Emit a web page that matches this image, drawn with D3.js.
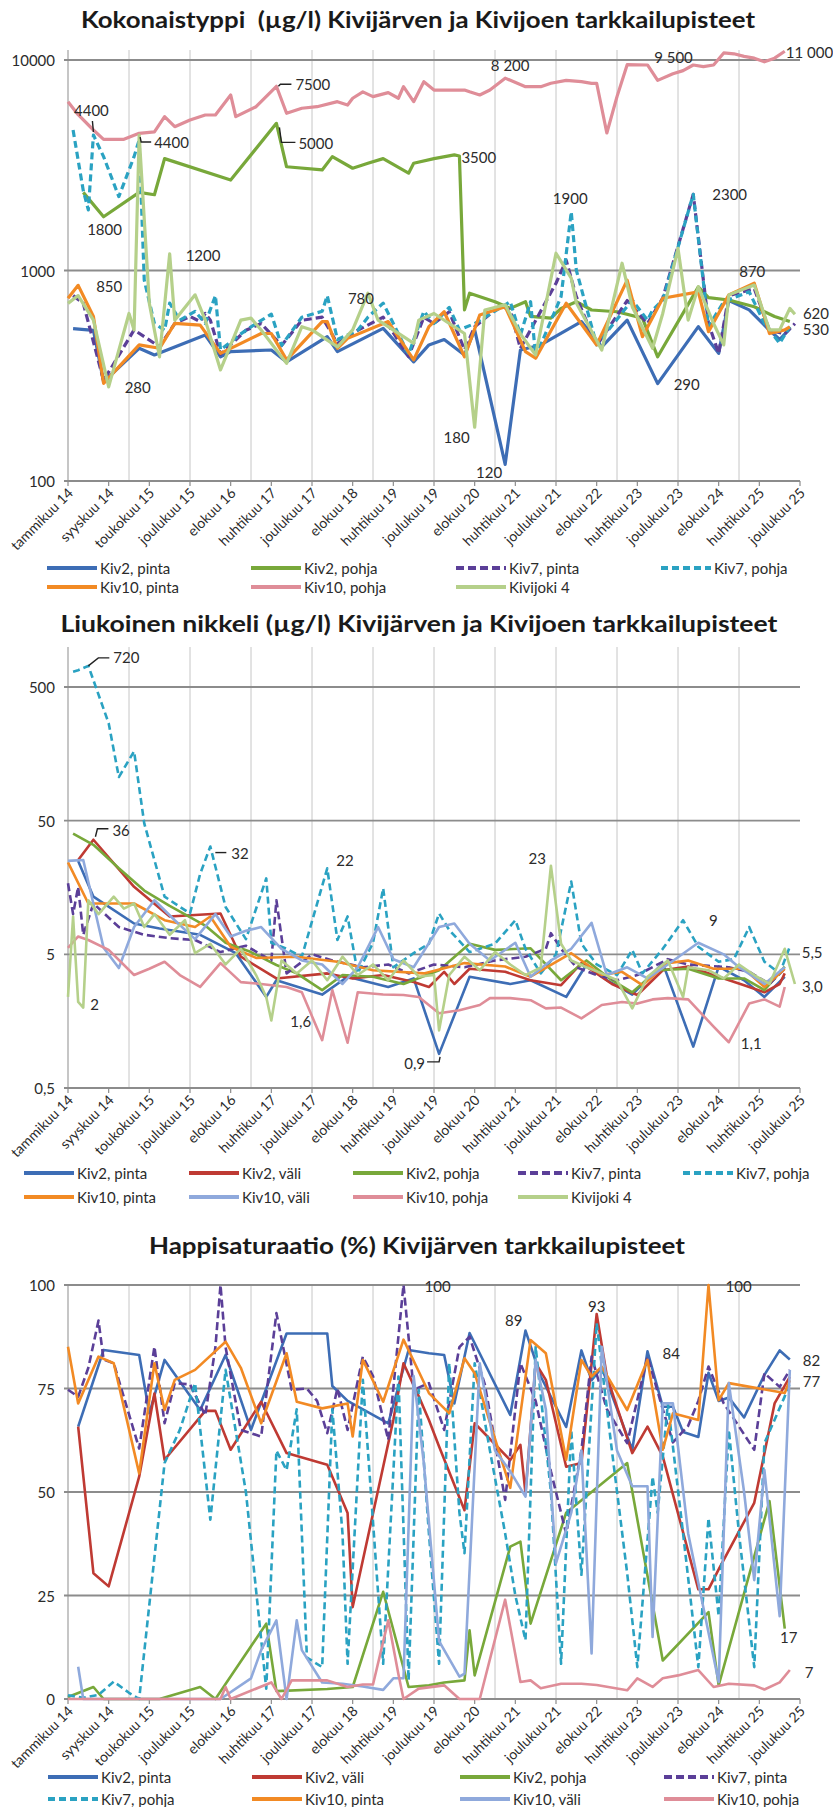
<!DOCTYPE html>
<html><head><meta charset="utf-8">
<script src="https://cdn.jsdelivr.net/npm/d3@7"></script>
<style>body{margin:0;background:#fff}svg{display:block}text{font-family:Lato,"Open Sans",sans-serif;fill:#2b2b2b}</style>
</head><body><svg id="c" width="833" height="1807"></svg>
<script>
// ---------------- DATA ----------------
const xTickLabels = ["tammikuu 14","syyskuu 14","toukokuu 15","joulukuu 15","elokuu 16","huhtikuu 17","joulukuu 17","elokuu 18","huhtikuu 19","joulukuu 19","elokuu 20","huhtikuu 21","joulukuu 21","elokuu 22","huhtikuu 23","joulukuu 23","elokuu 24","huhtikuu 25","joulukuu 25"];
const nCategories = 145;       // sampling dates on the category axis
const labelEvery = 8, gridEvery = 12;

// Chart 1: Kokonaistyppi (µg/l)  [category index, value]
const tnKiv2Pinta = [[1,530],[5,520],[7,296],[14,427],[17,397],[27,494],[30,389],[32,412],[40,419],[43,368],[51,485],[53,412],[62,531],[68,368],[71,443],[74,470],[78,397],[80,522],[86,120],[89,419],[93,443],[101,572],[105,434],[110,581],[116,290],[124,541],[128,404],[130,720],[134,650],[138,520],[140,470],[142,530]];
const tnKiv2Pohja = [[3,2350],[7,1800],[14,2350],[17,2290],[19,3400],[32,2690],[41,5000],[43,3110],[50,3005],[52,3475],[56,3060],[59,3230],[62,3400],[67,2900],[68,3230],[72,3400],[76,3540],[77,3500],[78,650],[79,780],[84,711],[87,661],[90,711],[91,605],[95,594],[97,661],[100,711],[103,649],[108,637],[113,594],[116,389],[124,836],[126,743],[130,724],[135,673],[139,605],[142,572]];
const tnKiv7Pinta = [[1,760],[3,700],[7,300],[12,476],[13,522],[15,485],[18,434],[21,560],[24,605],[26,572],[27,625],[28,581],[30,400],[35,520],[38,560],[42,440],[46,580],[50,600],[53,450],[57,520],[62,600],[67,390],[70,600],[72,560],[75,637],[78,420],[80,540],[85,680],[87,649],[89,427],[96,870],[98,1120],[100,751],[104,440],[110,720],[114,560],[117,740],[123,2300],[126,560],[128,404],[130,760],[135,820],[138,520],[141,500],[143,560]];
const tnKiv7Pohja = [[1,4645],[3,2400],[4,1940],[5,4400],[7,3475],[10,2244],[13,3475],[14,4170],[15,900],[17,560],[19,520],[20,700],[22,580],[25,640],[27,560],[29,760],[30,420],[34,500],[37,560],[40,620],[42,440],[46,600],[50,640],[51,760],[53,470],[57,520],[59,600],[62,700],[64,560],[67,400],[70,640],[72,560],[75,668],[77,522],[80,560],[87,711],[89,494],[91,711],[92,389],[97,751],[99,1900],[100,1003],[104,443],[111,724],[114,581],[115,649],[117,724],[123,2300],[126,541],[129,711],[134,792],[137,561],[140,451],[142,541]];
const tnKiv10Pinta = [[0,738],[2,850],[5,605],[7,291],[14,443],[18,427],[21,561],[26,550],[30,404],[38,502],[40,502],[43,376],[50,572],[51,572],[53,427],[55,476],[63,572],[68,376],[71,541],[74,637],[78,389],[81,615],[86,673],[90,412],[92,383],[98,699],[104,443],[110,900],[113,485],[117,738],[124,792],[126,512],[130,766],[135,870],[138,502],[141,522],[142,540]];
const tnKiv10Pohja = [[0,6340],[2,5500],[5,4650],[7,4200],[11,4200],[14,4485],[17,4560],[19,5380],[21,4820],[24,5190],[27,5480],[29,5480],[32,6820],[33,5380],[37,6000],[41,7500],[43,5585],[46,5900],[49,6000],[53,6340],[55,6110],[56,6580],[58,7060],[60,6700],[63,7000],[65,6580],[66,7470],[68,6340],[70,7890],[72,7200],[75,7200],[78,7200],[79,7060],[81,6820],[83,7200],[86,8200],[90,7470],[93,7470],[95,7750],[98,8000],[101,7890],[103,7750],[104,7750],[106,4500],[108,6700],[110,9500],[114,9470],[116,8000],[119,8600],[121,8900],[123,9470],[125,9300],[127,9470],[129,10800],[131,10700],[133,10400],[135,10200],[137,9800],[139,10200],[141,11000]];
const tnKivijoki4 = [[0,698],[2,760],[5,581],[8,280],[12,625],[13,522],[14,4400],[16,698],[18,389],[20,1200],[21,581],[25,766],[27,581],[30,337],[34,581],[36,594],[38,522],[43,362],[46,541],[48,522],[53,434],[56,522],[59,780],[61,581],[66,485],[68,451],[69,581],[72,625],[75,560],[78,502],[80,180],[82,649],[86,687],[89,500],[92,397],[96,1208],[99,920],[100,700],[105,419],[109,1083],[111,673],[115,427],[117,625],[120,1274],[122,581],[124,836],[127,560],[129,443],[130,766],[135,853],[138,522],[140,522],[142,661],[143,620]];
const tnTicks = [100,1000,10000];
const tnNotes = [[5,4400,"4400"],[14,4400,"4400"],[41,7500,"7500"],[41,5000,"5000"],[77,3500,"3500"],[86,8200,"8 200"],[110,9500,"9 500"],[141,11000,"11 000"],[7,1800,"1800"],[99,1900,"1900"],[123,2300,"2300"],[20,1200,"1200"],[2,850,"850"],[59,780,"780"],[135,870,"870"],[143,620,"620"],[142,530,"530"],[8,280,"280"],[80,180,"180"],[86,120,"120"],[116,290,"290"]];

// Chart 2: Liukoinen nikkeli (µg/l)
const niKiv2Pinta = [[2,25],[5,13.5],[13,8.5],[18,7.8],[26,7],[33,5.1],[39,2.4],[41,3.2],[50,2.5],[55,3.4],[63,2.85],[68,3.3],[73,0.9],[79,3.4],[87,3.0],[91,3.2],[98,2.4],[102,4.2],[106,3.2],[111,2.5],[117,4.3],[123,1.02],[128,4.05],[133,3.2],[137,2.4],[141,3.4]];
const niKiv2Vali = [[2,25.4],[5,36],[13,16],[20,9.6],[30,10.1],[34,4.8],[41,3.3],[51,3.6],[56,3.3],[62,3.5],[68,3.1],[71,2.85],[74,3.7],[76,3.0],[79,3.9],[86,3.7],[91,3.2],[97,2.94],[101,4.3],[107,3.0],[112,2.48],[117,3.8],[122,4.05],[128,3.4],[133,2.94],[137,2.6],[140,3.0],[141,3.6]];
const niKiv2Pohja = [[1,40],[5,33],[10,22],[15,15],[20,11.5],[27,8.2],[31,6.1],[36,5.2],[41,4.16],[45,3.6],[50,2.7],[54,3.5],[60,3.4],[66,3.0],[73,3.8],[79,6.0],[84,5.4],[91,5.55],[97,3.2],[102,4.5],[107,3.2],[111,2.6],[116,3.8],[122,3.9],[128,3.3],[133,3.3],[137,2.7],[141,4.05]];
const niKiv7Pinta = [[0,17],[1,10],[2,16],[3,7],[5,12],[10,8],[15,7],[20,6.6],[25,6.4],[30,5.2],[35,5.8],[40,4.5],[41,12.7],[43,3.6],[48,5],[52,4.5],[58,4],[63,4.2],[67,3.6],[72,4.2],[78,4],[84,4.5],[90,4.8],[94,5.5],[95,7.2],[97,5.5],[100,4],[104,3.5],[108,3.2],[112,3.5],[118,4.6],[122,4.2],[126,4.1],[130,4],[134,3.7],[138,3.0],[141,3.9]];
const niKiv7Pohja = [[1,650],[2,668],[4,720],[8,268],[10,106],[13,165],[15,47.7],[19,13.5],[24,10.1],[26,20],[28,32],[31,11.3],[35,6.5],[39,18.5],[40,6.1],[43,5.5],[46,4.8],[51,22],[53,6.4],[55,9.6],[57,3.6],[60,6.1],[62,15.6],[64,4.0],[68,5.1],[71,6],[73,10.1],[75,7.6],[79,5.2],[84,6],[88,9.0],[90,5.5],[93,3.6],[96,5],[99,17.5],[101,6],[104,4.2],[108,3.5],[111,5.4],[113,3.6],[117,5.5],[121,9],[124,5.7],[128,4.4],[131,4.6],[134,8.0],[137,4.4],[140,3.6],[142,5.7]];
const niKiv10Pinta = [[0,24.4],[4,12],[13,12],[19,9],[25,8.0],[28,9.6],[32,5.7],[37,4.7],[45,4.8],[53,4.4],[60,3.8],[70,3.6],[78,4.3],[86,4.05],[91,3.4],[99,5.1],[105,3.5],[109,3.7],[113,2.94],[118,4.3],[122,4.5],[127,3.9],[133,3.9],[137,2.85],[141,3.9]];
const niKiv10Vali = [[0,25],[3,25.4],[7,5.6],[10,3.95],[13,8],[17,12.7],[21,9],[25,6.5],[29,10],[32,6.8],[35,7.5],[38,8.0],[42,5.5],[46,4.5],[50,4.2],[54,3.0],[57,4],[61,8],[64,4.6],[68,4],[73,8.0],[76,8.5],[79,6.0],[83,4.5],[88,6.1],[91,3.4],[95,4.5],[99,5.5],[103,8.6],[106,3.5],[110,4],[114,3.3],[118,4.2],[124,6.1],[129,5.0],[132,4],[137,3.0],[141,4]];
const niKiv10Pohja = [[0,5.6],[2,6.8],[4,6.4],[8,5.4],[13,3.5],[16,3.9],[19,4.4],[22,3.5],[26,2.85],[30,4.3],[34,3.1],[38,3.0],[43,2.85],[46,2.6],[50,1.14],[52,2.7],[55,1.09],[57,2.6],[62,2.5],[66,2.48],[69,2.4],[73,1.81],[77,1.91],[81,2.09],[83,2.35],[87,2.35],[91,2.27],[94,1.97],[97,2.0],[101,1.66],[105,2.09],[109,2.2],[112,2.14],[115,2.3],[118,2.35],[122,2.3],[127,1.44],[130,1.1],[134,2.14],[137,2.3],[140,2.03],[141,2.85]];
const niKivijoki4 = [[0,2.4],[1,9.6],[2,2.2],[3,2.0],[4,12.7],[6,10],[9,13.5],[11,11],[13,12],[15,8],[17,10],[20,7],[23,9],[25,5.1],[28,6],[31,4.2],[34,5.5],[37,3.5],[39,2.4],[40,1.6],[42,4.5],[45,3.6],[48,4.5],[51,3.2],[54,4.8],[57,3.5],[60,4.2],[63,3.2],[66,4.5],[69,3.4],[72,3.5],[73,1.35],[75,3.5],[78,4.8],[81,3.8],[84,5.2],[87,4.2],[90,3.5],[93,4.0],[95,23],[97,6],[99,4.5],[102,4.0],[105,3.6],[108,3.2],[111,1.97],[114,3.4],[118,4.5],[121,2.4],[122,4],[126,3.8],[129,3.3],[132,4.2],[135,3.5],[138,3.0],[141,5.5],[143,3.0]];
const niTicks = [0.5,5,50,500];
const niNotes = [[4,720,"720"],[5,36,"36"],[28,32,"32"],[51,22,"22"],[95,23,"23"],[121,9,"9"],[141,5.5,"5,5"],[143,3.0,"3,0"],[3,2,"2"],[40,1.6,"1,6"],[73,0.9,"0,9"],[130,1.1,"1,1"]];

// Chart 3: Happisaturaatio (%)
const hsKiv2Pinta = [[2,65.8],[7,84.3],[14,83.1],[16,69],[19,81.9],[26,69.8],[31,83.1],[36,65],[43,88.3],[51,88.3],[52,75.6],[55,72],[63,66.6],[67,84.3],[71,83.5],[74,83.1],[76,71.4],[79,88.4],[87,68.6],[90,89],[93,77.9],[98,65.7],[101,84.2],[103,77],[105,80],[111,60.2],[114,84],[117,70.6],[119,70.6],[121,64.5],[124,63.3],[126,78.8],[128,72],[130,72.8],[133,68],[137,78.3],[140,84.2],[142,82]];
const hsKiv2Vali = [[2,65.8],[5,30.4],[8,27.2],[14,53.7],[17,73.8],[19,57.8],[27,69.6],[29,69.6],[32,60.2],[38,71.8],[43,59.4],[51,56.6],[55,44.9],[56,22.2],[64,67.4],[66,81.1],[69,73.1],[71,67.4],[73,61],[78,45.6],[80,66.6],[87,57.7],[89,61.4],[90,49.7],[92,81.1],[94,77.1],[98,56.1],[101,57],[104,93],[106,78],[111,59.4],[114,65.8],[117,58.6],[124,26.5],[126,26.5],[128,31.3],[135,47.4],[139,71.4],[142,77.8]];
const hsKiv2Pohja = [[0,0.5],[5,2.9],[7,0],[18,0],[26,2.9],[29,0],[39,18.2],[41,1.9],[51,2.4],[56,2.9],[62,25.9],[67,2.9],[71,3.3],[74,4.0],[78,4.5],[79,16.6],[80,5.7],[87,36.8],[89,38],[91,18.2],[98,45],[110,57],[117,9.3],[126,21],[128,3.3],[138,47.8],[141,17]];
const hsKiv7Pinta = [[0,74.7],[2,73],[4,80],[6,91.4],[7,82],[9,81.1],[14,60.5],[17,85.1],[19,66.6],[21,76.3],[24,76],[27,68.5],[29,85],[30,100],[31,85],[34,65],[38,63.4],[41,93.2],[44,74.7],[47,75],[49,72],[51,64.2],[53,75],[55,65],[58,82.7],[60,78],[63,62.6],[66,100],[68,74.7],[71,76.3],[74,65],[77,85],[79,87.5],[82,76],[86,48.1],[89,81.1],[92,72],[95,55],[98,39.9],[101,60],[103,82.7],[106,70],[110,61.8],[114,82.7],[117,70],[119,62],[122,66],[124,72],[126,80.3],[129,71.4],[135,60.2],[137,78.7],[140,75.4],[142,79.5]];
const hsKiv7Pohja = [[0,0.9],[3,0.3],[6,1],[9,4.2],[12,1.5],[14,0],[19,57],[22,65],[25,76.3],[28,43.3],[31,79.5],[35,50],[39,2.5],[41,60],[43,55.3],[45,70],[47,10],[50,7.7],[52,70],[54,40],[55,8.5],[58,77.1],[62,8.5],[65,77.9],[67,4.5],[69,74.7],[71,40],[73,8.5],[75,81.1],[77,45],[78,35.2],[80,81.1],[83,60],[86,40],[88,25],[90,14.2],[92,85.1],[95,50],[97,8.5],[99,65],[101,30],[104,90.8],[107,60],[110,30.4],[112,7.7],[115,53.7],[116,45],[118,71.4],[121,40],[124,7.7],[126,43.7],[128,20],[130,65],[132,40],[135,7.7],[137,61.8],[141,73.1],[142,76.3]];
const hsKiv10Pinta = [[0,85.1],[2,71.4],[6,82.7],[9,81.1],[14,54.5],[17,81.1],[19,69.8],[21,77.1],[25,79.5],[31,86.3],[34,80],[38,66.6],[43,83.5],[45,71.8],[50,70.2],[55,71.4],[56,63.4],[58,81.9],[62,71.8],[66,86.8],[69,79.1],[71,73.9],[75,69],[78,82.3],[80,78.7],[87,51],[91,86.7],[94,83.5],[98,57.8],[101,81.9],[103,77.9],[105,80.3],[110,69.8],[114,81.9],[117,60.2],[119,69],[124,67.4],[126,100],[128,72.2],[130,76.3],[141,73.9],[142,77]];
const hsKiv10Vali = [[2,7.8],[3,0],[10,0],[20,0],[30,0],[36,5],[38,11.8],[41,19],[43,0],[45,19],[46,11.8],[50,4],[54,3.7],[58,3],[62,2.2],[64,5],[66,5],[68,78],[70,57],[73,14],[77,5.4],[78,6.1],[81,81.1],[84,60],[87,55],[90,48.9],[92,81.9],[94,70],[96,32.8],[99,45],[101,60],[103,11],[105,85.1],[108,60],[111,51.4],[114,51.4],[115,15],[117,71.4],[119,71.4],[122,40],[128,4.1],[130,76.3],[133,50],[135,28.7],[137,55.3],[140,20],[142,79.5]];
const hsKiv10Pohja = [[0,0],[30,0],[31,2.9],[32,0],[40,4],[42,0],[44,4.5],[51,4.5],[55,2.9],[58,3.5],[60,3.5],[63,19],[65,6],[66,0],[69,2.5],[74,3.3],[77,0],[81,0],[86,24],[89,4.1],[91,4.5],[93,2.6],[97,3.7],[101,3.7],[104,3.4],[110,2.1],[112,5],[115,2.9],[117,5],[120,5.7],[124,7],[127,2.9],[130,3.7],[135,3.3],[137,2.3],[140,4],[142,7]];
const hsTicks = [0,25,50,75,100];
const hsNotes = [[66,100,"100"],[90,89,"89"],[104,93,"93"],[114,84,"84"],[126,100,"100"],[142,82,"82"],[142,77,"77"],[141,17,"17"],[142,7,"7"]];

// ---------------- STYLE / LAYOUT ----------------
const styles = {
  "Kiv2, pinta": {c:"#3d6db5"},
  "Kiv2, väli": {c:"#bf3a33"},
  "Kiv2, pohja": {c:"#78a83a"},
  "Kiv7, pinta": {c:"#5b3f98", dash:"8,4"},
  "Kiv7, pohja": {c:"#2aa2c2", dash:"7,4"},
  "Kiv10, pinta": {c:"#f28a24"},
  "Kiv10, väli": {c:"#8fa9dc"},
  "Kiv10, pohja": {c:"#df8d98"},
  "Kivijoki 4": {c:"#b5d08a"}
};

const svg = d3.select("#c");
const plotLeft = 68, plotRight = 800;
const x = d3.scaleLinear().domain([0, nCategories - 1]).range([plotLeft, plotRight]);
const fmtComma = d => String(d).replace(".", ",");

function drawChart(cfg) {
  const g = svg.append("g");
  const y = cfg.y;
  const top = cfg.plotTop, bottom = y.range()[0];
  // title
  const t = g.append("text").attr("x", cfg.titleX).attr("y", cfg.titleY)
    .attr("text-anchor", "middle").style("font-weight", "700").style("font-size", "22px")
    .style("white-space", "pre").style("fill", "#1a1a1a").text(cfg.title);
  const w = t.node().getComputedTextLength();
  if (Math.abs(w - cfg.titleW) > 4) t.attr("textLength", cfg.titleW).attr("lengthAdjust", "spacingAndGlyphs");

  // vertical gridlines
  for (let i = gridEvery; i < nCategories - 1; i += gridEvery) {
    g.append("line").attr("x1", x(i)).attr("x2", x(i)).attr("y1", top).attr("y2", bottom)
      .attr("stroke", "#c6c6c6").attr("stroke-width", 1);
  }
  // left axis line
  g.append("line").attr("x1", plotLeft).attr("x2", plotLeft).attr("y1", top).attr("y2", bottom)
    .attr("stroke", "#a8a8a8").attr("stroke-width", 1.3);
  // horizontal gridlines + y labels
  cfg.ticks.forEach(v => {
    g.append("line").attr("x1", plotLeft - 4).attr("x2", plotRight).attr("y1", y(v)).attr("y2", y(v))
      .attr("stroke", "#8c8c8c").attr("stroke-width", 1.8);
    g.append("text").attr("x", 55).attr("y", y(v)).attr("text-anchor", "end")
      .attr("dominant-baseline", "central").style("font-size", "15px").text(cfg.fmt(v));
  });
  // x ticks + labels
  xTickLabels.forEach((lab, k) => {
    const px = x(k * labelEvery);
    g.append("line").attr("x1", px).attr("x2", px).attr("y1", bottom).attr("y2", bottom + 5)
      .attr("stroke", "#8c8c8c").attr("stroke-width", 1.2);
    g.append("text").attr("text-anchor", "end")
      .attr("transform", `translate(${px + 6},${bottom + 13}) rotate(-45)`)
      .style("font-size", "14px").text(lab);
  });

  // series
  const line = d3.line().x(d => x(d[0])).y(d => y(d[1]));
  cfg.series.forEach(s => {
    const st = styles[s.name];
    g.append("path").attr("d", line(s.data)).attr("fill", "none")
      .attr("stroke", st.c).attr("stroke-width", cfg.lw)
      .attr("stroke-linejoin", "round").attr("stroke-dasharray", st.dash || null);
  });

  // annotations
  cfg.notes.forEach((n, k) => {
    const L = cfg.noteLayout[k];
    const px = x(n[0]), py = y(n[1]);
    if (L[3]) {
      g.append("polyline").attr("points", L[3].map(p => [px + p[0], py + p[1]].join(",")).join(" "))
        .attr("fill", "none").attr("stroke", "#222").attr("stroke-width", 1.4);
    }
    g.append("text").attr("x", px + L[0]).attr("y", py + L[1]).attr("text-anchor", L[2] || "start")
      .attr("dominant-baseline", "central").style("font-size", "15px").text(n[2]);
  });

  // legend
  cfg.series.forEach((s, k) => {
    const st = styles[s.name];
    const col = k % cfg.legCols.length, row = Math.floor(k / cfg.legCols.length);
    const lx = cfg.legCols[col], ly = cfg.legRows[row];
    g.append("line").attr("x1", lx).attr("x2", lx + 50).attr("y1", ly).attr("y2", ly)
      .attr("stroke", st.c).attr("stroke-width", 4).attr("stroke-dasharray", st.dash || null);
    g.append("text").attr("x", lx + 53).attr("y", ly).attr("dominant-baseline", "central")
      .style("font-size", "15px").text(s.name);
  });
}

drawChart({
  title: "Kokonaistyppi  (µg/l) Kivijärven ja Kivijoen tarkkailupisteet",
  titleX: 418, titleY: 28, titleW: 674,
  plotTop: 50,
  y: d3.scaleLog().domain([100, 10000]).range([481, 60]),
  ticks: tnTicks, fmt: d => String(d), lw: 3.2,
  series: [
    {name: "Kiv2, pinta", data: tnKiv2Pinta},
    {name: "Kiv2, pohja", data: tnKiv2Pohja},
    {name: "Kiv7, pinta", data: tnKiv7Pinta},
    {name: "Kiv7, pohja", data: tnKiv7Pohja},
    {name: "Kiv10, pinta", data: tnKiv10Pinta},
    {name: "Kiv10, pohja", data: tnKiv10Pohja},
    {name: "Kivijoki 4", data: tnKivijoki4}
  ],
  notes: tnNotes,
  noteLayout: [
    [-2,-25,"middle",[[0,-3],[-1,-14]]],
    [15,7,"start",[[1,2],[2,7],[12,7]]],
    [19,-2,"start",[[2,0],[4,-2],[15,-2]]],
    [22,20,"start",[[3,4],[5,19],[19,19]]],
    [2,1,"start"],
    [5,-13,"middle"],
    [27,-8,"start"],
    [1,1,"start"],
    [1,12,"middle"],
    [-1,-14,"middle"],
    [19,0,"start"],
    [16,1,"start"],
    [18,1,"start"],
    [-20,5,"start"],
    [-2,-12,"middle"],
    [8,-1,"start"],
    [13,0,"start"],
    [16,0,"start"],
    [-5,10,"end"],
    [-3,8,"end"],
    [16,0,"start"]
  ],
  legCols: [47, 251, 456, 661], legRows: [568, 587]
});

drawChart({
  title: "Liukoinen nikkeli (µg/l) Kivijärven ja Kivijoen tarkkailupisteet",
  titleX: 419, titleY: 632, titleW: 717,
  plotTop: 647,
  y: d3.scaleLog().domain([0.5, 500]).range([1088, 687]),
  ticks: niTicks, fmt: fmtComma, lw: 2.6,
  series: [
    {name: "Kiv2, pinta", data: niKiv2Pinta},
    {name: "Kiv2, väli", data: niKiv2Vali},
    {name: "Kiv2, pohja", data: niKiv2Pohja},
    {name: "Kiv7, pinta", data: niKiv7Pinta},
    {name: "Kiv7, pohja", data: niKiv7Pohja},
    {name: "Kiv10, pinta", data: niKiv10Pinta},
    {name: "Kiv10, väli", data: niKiv10Vali},
    {name: "Kiv10, pohja", data: niKiv10Pohja},
    {name: "Kivijoki 4", data: niKivijoki4}
  ],
  notes: niNotes,
  noteLayout: [
    [25,-9,"start",[[0,0],[10,-8],[21,-8]]],
    [19,-10,"start",[[2,-3],[4,-11],[15,-11]]],
    [21,6,"start",[[5,6],[16,6]]],
    [9,-8,"start"],
    [-5,-8,"end"],
    [26,0,"start"],
    [17,3,"start"],
    [7,2,"start"],
    [7,-4,"start"],
    [19,1,"start"],
    [-14,9,"end",[[1,3],[0,8],[-12,8]]],
    [12,1,"start"]
  ],
  legCols: [24, 189, 353, 518, 683], legRows: [1173, 1197]
});

drawChart({
  title: "Happisaturaatio (%) Kivijärven tarkkailupisteet",
  titleX: 417, titleY: 1254, titleW: 536,
  plotTop: 1285,
  y: d3.scaleLinear().domain([0, 100]).range([1699, 1285]),
  ticks: hsTicks, fmt: d => String(d), lw: 2.6,
  series: [
    {name: "Kiv2, pinta", data: hsKiv2Pinta},
    {name: "Kiv2, väli", data: hsKiv2Vali},
    {name: "Kiv2, pohja", data: hsKiv2Pohja},
    {name: "Kiv7, pinta", data: hsKiv7Pinta},
    {name: "Kiv7, pohja", data: hsKiv7Pohja},
    {name: "Kiv10, pinta", data: hsKiv10Pinta},
    {name: "Kiv10, väli", data: hsKiv10Vali},
    {name: "Kiv10, pohja", data: hsKiv10Pohja}
  ],
  notes: hsNotes,
  noteLayout: [
    [21,1,"start"],
    [-3,-11,"end"],
    [0,-8,"middle"],
    [15,2,"start"],
    [17,1,"start"],
    [13,0,"start"],
    [13,1,"start"],
    [4,8,"middle"],
    [15,2,"start"]
  ],
  legCols: [48, 252, 460, 664], legRows: [1777, 1799]
});
</script>
</body></html>
